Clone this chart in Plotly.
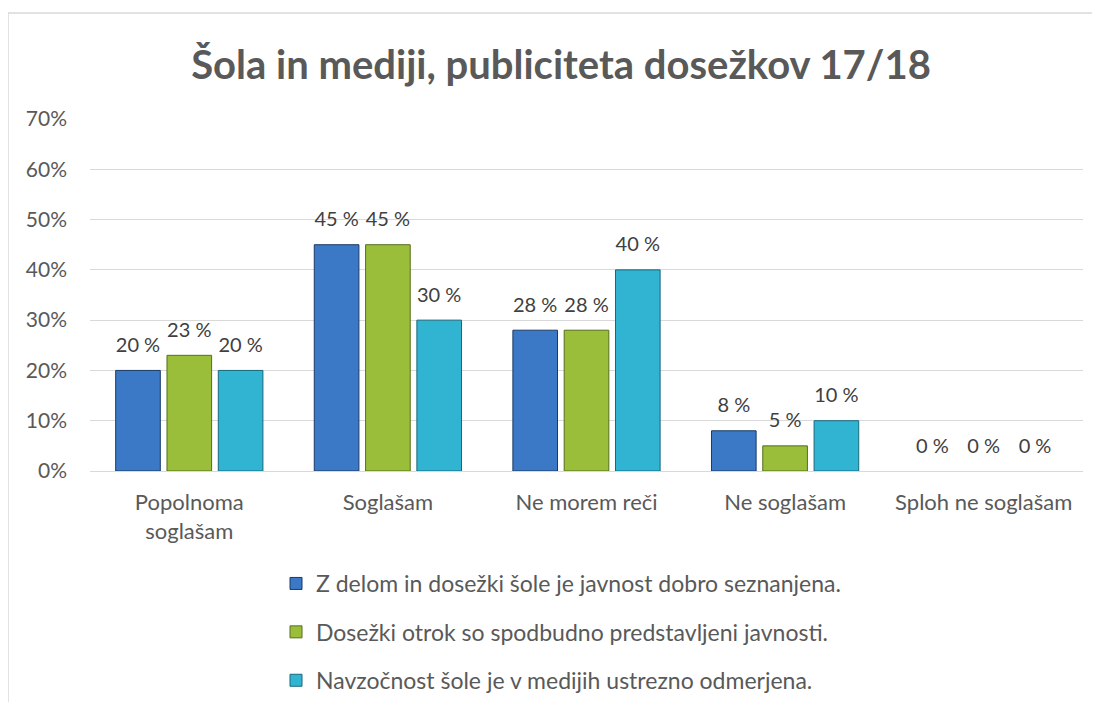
import plotly.graph_objects as go

categories = ["Popolnoma<br>soglašam", "Soglašam", "Ne morem reči", "Ne soglašam", "Sploh ne soglašam"]
series_names = [
    "Z delom in dosežki šole je javnost dobro seznanjena.",
    "Dosežki otrok so spodbudno predstavljeni javnosti.",
    "Navzočnost šole je v medijih ustrezno odmerjena.",
]
s1 = [20, 45, 28, 8, 0]
s2 = [23, 45, 28, 5, 0]
s3 = [20, 30, 40, 10, 0]
y_ticks = [0, 10, 20, 30, 40, 50, 60, 70]

colors = ["#3B79C6", "#9ABD3A", "#31B4D1"]
outlines = ["#1B3A66", "#55701C", "#17687C"]
FONT = "Lato, Carlito, Liberation Sans, sans-serif"
OFF = 8  # browser body margin

W, H = 1100 - OFF, 702 - OFF
L = 90 - OFF
R = W - (1083 - OFF)
T = 119 - OFF
B = H - (471 - OFF)
pw, ph = W - L - R, H - T - B

def px_x(p):
    return (p - OFF - L) / pw

def px_y(p):
    return (H - B - (p - OFF)) / ph

fig = go.Figure()
for i, (name, vals) in enumerate(zip(series_names, [s1, s2, s3])):
    fig.add_trace(go.Bar(
        x=categories, y=vals, name=name,
        marker=dict(color=colors[i],
                    line=dict(color=outlines[i], width=[1 if v > 0 else 0 for v in vals])),
        legendgroup=f"g{i}", offsetgroup=str(i),
    ))
for i, vals in enumerate([s1, s2, s3]):
    fig.add_trace(go.Scatter(
        x=categories, y=vals, mode="markers+text",
        marker=dict(size=20, opacity=0),
        text=[f"{v} %" for v in vals], textposition="top center",
        textfont=dict(size=20, color="#404040", family=FONT),
        cliponaxis=False, showlegend=False, hoverinfo="skip",
        offsetgroup=str(i),
    ))

fig.add_shape(type="rect", xref="paper", yref="paper",
              x0=px_x(8), x1=px_x(1130), y0=px_y(740), y1=px_y(13),
              line=dict(color="#D9D9D9", width=1.5), fillcolor="rgba(0,0,0,0)", layer="below")

fig.update_layout(
    width=W, height=H,
    margin=dict(l=L, r=R, t=T, b=B),
    paper_bgcolor="white", plot_bgcolor="white",
    title=dict(text="<b>Šola in mediji, publiciteta dosežkov 17/18</b>",
               x=px_x(561), xref="paper", xanchor="center",
               y=1 - (65 - OFF) / H, yanchor="middle",
               font=dict(size=40, color="#595959", family=FONT)),
    barmode="group", bargap=0.225, bargroupgap=0.13,
    scattermode="group", scattergap=0.225,
    font=dict(family=FONT, size=21, color="#595959"),
    xaxis=dict(showgrid=False, showline=True, linecolor="#D9D9D9", linewidth=1,
               ticks="", tickfont=dict(size=22, color="#595959"), ticklabelstandoff=12),
    yaxis=dict(range=[0, 70], tickvals=y_ticks, ticktext=[f"{v}%" for v in y_ticks],
               showgrid=True, gridcolor="#D9D9D9", gridwidth=1, zeroline=False,
               tickfont=dict(size=21, color="#595959"), ticklabelstandoff=22),
    legend=dict(orientation="v", x=px_x(276), xanchor="left",
                yref="container", y=1 - (562 - OFF) / H, yanchor="top",
                font=dict(size=23, color="#595959", family=FONT),
                traceorder="grouped", tracegroupgap=15.5, itemwidth=30),
    showlegend=True,
)

fig.write_html("out.html")
